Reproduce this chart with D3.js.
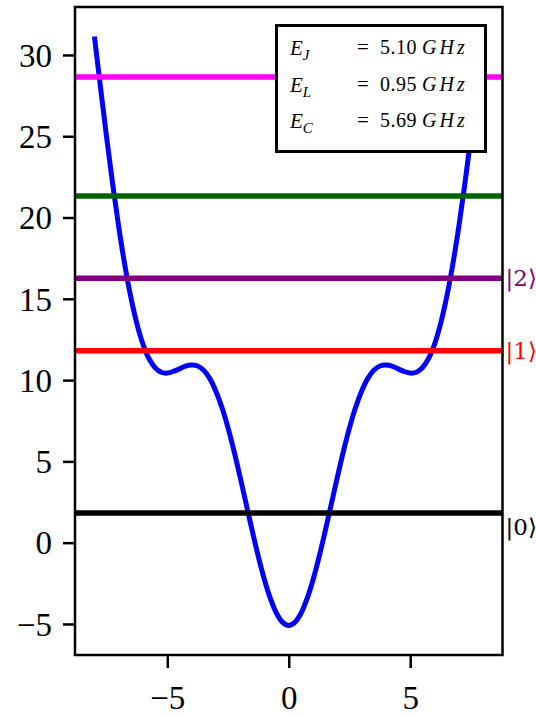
<!DOCTYPE html>
<html>
<head>
<meta charset="utf-8">
<script src="https://cdn.jsdelivr.net/npm/d3@7"></script>
<style>
  html, body { margin: 0; padding: 0; background: #fff; }
  svg { display: block; }
  .tick text { font-family: "Liberation Serif", "DejaVu Serif", serif; }
</style>
</head>
<body>
<svg id="chart" width="536" height="717"></svg>
<script>
// Fluxonium potential V(phi) sampled along phi
const phi = [-8, -7.75, -7.5, -7.25, -7, -6.75, -6.5, -6.25, -6, -5.75, -5.5, -5.25, -5, -4.75, -4.5, -4.25,
  -4, -3.75, -3.5, -3.25, -3, -2.75, -2.5, -2.25, -2, -1.75, -1.5, -1.25, -1, -0.75, -0.5, -0.25,
  0, 0.25, 0.5, 0.75, 1, 1.25, 1.5, 1.75, 2, 2.25, 2.5, 2.75, 3, 3.25, 3.5, 3.75,
  4, 4.25, 4.5, 4.75, 5, 5.25, 5.5, 5.75, 6, 6.25, 6.5, 6.75, 7, 7.25, 7.5, 7.75, 8];
const potential = [31.14, 28.00, 24.95, 22.07, 19.43, 17.09, 15.09, 13.46, 12.20, 11.31, 10.76, 10.48, 10.43, 10.53, 10.69, 10.86,
  10.93, 10.87, 10.60, 10.09, 9.32, 8.31, 7.06, 5.61, 4.02, 2.36, 0.71, -0.87, -2.28, -3.46, -4.36, -4.91,
  -5.10, -4.91, -4.36, -3.46, -2.28, -0.87, 0.71, 2.36, 4.02, 5.61, 7.06, 8.31, 9.32, 10.09, 10.60, 10.87,
  10.93, 10.86, 10.69, 10.53, 10.43, 10.48, 10.76, 11.31, 12.20, 13.46, 15.09, 17.09, 19.43, 22.07, 24.95, 28.00, 31.14];

// Eigen-energies and their colours
const levels = [1.82, 11.81, 16.27, 21.32, 28.65];
const levelColors = ["#000000", "#ff0000", "#800080", "#006400", "#ff00ff"];

// State labels on the right
const kets = ["|0\u27E9", "|1\u27E9", "|2\u27E9"];
const ketY = [0.95, 11.81, 16.27];
const ketColors = ["#000000", "#ff0000", "#800080"];

// Parameter box
const paramNames = ["J", "L", "C"];
const paramValues = ["5.10", "0.95", "5.69"];

const xTicks = [-5, 0, 5];
const yTicks = [-5, 0, 5, 10, 15, 20, 25, 30];

const svg = d3.select("#chart");
const L = 75, R = 502.5, T = 7, B = 655;

const x = d3.scaleLinear().domain([-8.8, 8.8]).range([L, R]);
const y = d3.scaleLinear().domain([-6.91, 32.95]).range([B, T]);

const fmt = d => (d < 0 ? "\u2212" + Math.abs(d) : String(d));

// curve
const line = d3.line().x((d, i) => x(phi[i])).y(d => y(d)).curve(d3.curveCatmullRom.alpha(0.5));
svg.append("path")
  .datum(potential)
  .attr("d", line)
  .attr("fill", "none")
  .attr("stroke", "#0000ff")
  .attr("stroke-width", 5);

// energy levels across the full width
svg.selectAll("line.level")
  .data(levels)
  .enter().append("line")
  .attr("class", "level")
  .attr("x1", L).attr("x2", R)
  .attr("y1", d => y(d)).attr("y2", d => y(d))
  .attr("stroke", (d, i) => levelColors[i])
  .attr("stroke-width", 5.5);

// axes
const xAxis = d3.axisBottom(x).tickValues(xTicks).tickFormat(fmt).tickSize(13).tickPadding(16);
const yAxis = d3.axisLeft(y).tickValues(yTicks).tickFormat(fmt).tickSize(12).tickPadding(11);

const gx = svg.append("g").attr("transform", `translate(0,${B})`).call(xAxis);
const gy = svg.append("g").attr("transform", `translate(${L},0)`).call(yAxis);
[gx, gy].forEach(g => {
  g.select(".domain").remove();
  g.selectAll(".tick line").attr("stroke", "#000").attr("stroke-width", 2.5);
  g.selectAll(".tick text").attr("font-size", 33).attr("fill", "#000");
});
gx.selectAll(".tick text").attr("dy", "0.75em");
gy.selectAll(".tick text").attr("dy", "0.34em");

// frame
svg.append("rect")
  .attr("x", L).attr("y", T).attr("width", R - L).attr("height", B - T)
  .attr("fill", "none").attr("stroke", "#000").attr("stroke-width", 2.5);

// state labels
svg.selectAll("text.ket")
  .data(kets)
  .enter().append("text")
  .attr("class", "ket")
  .attr("x", R + 3)
  .attr("y", (d, i) => y(ketY[i]))
  .attr("dy", "0.35em")
  .attr("font-family", "'DejaVu Serif', serif")
  .attr("font-size", 23)
  .attr("fill", (d, i) => ketColors[i])
  .text(d => d);

// parameter box
const box = svg.append("g");
box.append("rect")
  .attr("x", 276.5).attr("y", 25.5).attr("width", 209).attr("height", 126)
  .attr("fill", "#fff").attr("stroke", "#000").attr("stroke-width", 3);

const rowBase = [55, 91.5, 128];
paramNames.forEach((n, i) => {
  const t = box.append("text")
    .attr("x", 290).attr("y", rowBase[i])
    .attr("font-family", "'Liberation Serif', serif")
    .attr("font-style", "italic")
    .attr("font-size", 21);
  t.append("tspan").text("E");
  t.append("tspan").attr("dy", 5).attr("font-size", 15).text(n);

  box.append("text")
    .attr("x", 357).attr("y", rowBase[i] - 1)
    .attr("font-family", "'Liberation Serif', serif")
    .attr("font-size", 21)
    .text("=");
  box.append("text")
    .attr("x", 380).attr("y", rowBase[i] - 1)
    .attr("font-family", "'Liberation Serif', serif")
    .attr("font-size", 20)
    .attr("letter-spacing", 0.5)
    .text(paramValues[i]);
  box.append("text")
    .attr("x", 422).attr("y", rowBase[i] - 1)
    .attr("font-family", "'Liberation Serif', serif")
    .attr("font-style", "italic")
    .attr("font-size", 20)
    .attr("letter-spacing", 3)
    .text("GHz");
});
</script>
</body>
</html>
